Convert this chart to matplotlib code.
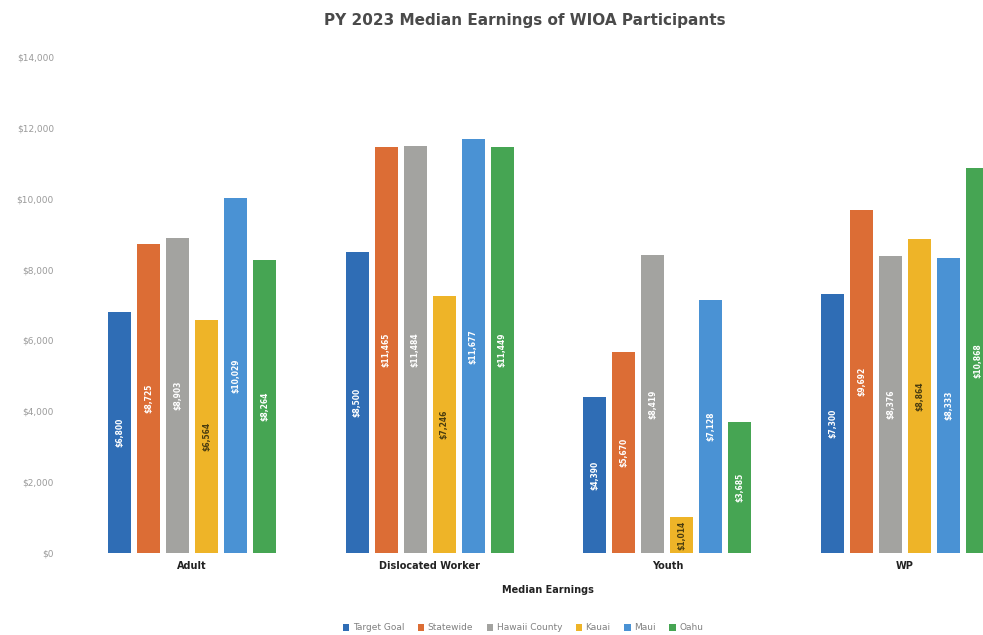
import matplotlib
matplotlib.use("Agg")
import matplotlib.pyplot as plt
import numpy as np

categories = ["Adult", "Dislocated Worker", "Youth", "WP"]
series_names = ["Target Goal", "Statewide", "Hawaii County", "Kauai", "Maui", "Oahu"]
target_goal = [6800, 8500, 4390, 7300]
statewide = [8725, 11465, 5670, 9692]
hawaii_county = [8903, 11484, 8419, 8376]
kauai = [6564, 7246, 1014, 8864]
maui = [10029, 11677, 7128, 8333]
oahu = [8264, 11449, 3685, 10868]
yticks = [0, 2000, 4000, 6000, 8000, 10000, 12000, 14000]

series = [target_goal, statewide, hawaii_county, kauai, maui, oahu]
colors = ["#2f6db5", "#dc6d35", "#a3a3a0", "#eeb428", "#4a92d4", "#46a553"]
text_colors = ["white", "white", "white", "#4a3d10", "white", "white"]

W, H = 983, 635
fig = plt.figure(figsize=(W / 100, H / 100), dpi=100)
ax_left, ax_right = 65, 983
ax_bottom, ax_top = 553, 57
ax = fig.add_axes([ax_left / W, (H - ax_bottom) / H,
                   (ax_right - ax_left) / W, (ax_bottom - ax_top) / H])

x = np.arange(len(categories))
pitch = 0.122
width = 0.097
for i, (vals, c, tc) in enumerate(zip(series, colors, text_colors)):
    pos = x + (i - 2.5) * pitch
    bars = ax.bar(pos, vals, width, color=c, label=series_names[i], zorder=2)
    for b, v in zip(bars, vals):
        ax.text(b.get_x() + b.get_width() / 2, v / 2, f"${v:,.0f}",
                rotation=90, ha="center", va="center", fontsize=5.5,
                color=tc, fontweight="bold", clip_on=True)

ax.set_xlim(-0.534, 3.328)
ax.set_ylim(0, 14000)
ax.set_yticks(yticks)
ax.set_yticklabels([f"${v:,.0f}" for v in yticks], fontsize=6.5, color="#9a9a9a")
ax.set_xticks(x)
ax.set_xticklabels(categories, fontsize=7, fontweight="bold", color="#222222")
ax.tick_params(axis="both", length=0)
ax.tick_params(axis="y", pad=8)
ax.tick_params(axis="x", pad=6)
for s in ax.spines.values():
    s.set_visible(False)

fig.text(525 / W, 1 - 20 / H, "PY 2023 Median Earnings of WIOA Participants",
         ha="center", va="center", fontsize=11, fontweight="bold", color="#4a4a4a")
fig.text(548 / W, 1 - 590 / H, "Median Earnings", ha="center", va="center",
         fontsize=7, fontweight="bold", color="#222222")

handles, labels = ax.get_legend_handles_labels()
leg = fig.legend(handles, labels, loc="center", bbox_to_anchor=(523 / W, 1 - 628 / H),
                 ncol=6, frameon=False, fontsize=6.5, handlelength=0.7, handleheight=0.7,
                 columnspacing=1.5, handletextpad=0.4)
for t in leg.get_texts():
    t.set_color("#808080")

fig.savefig("out.png", dpi=100)
